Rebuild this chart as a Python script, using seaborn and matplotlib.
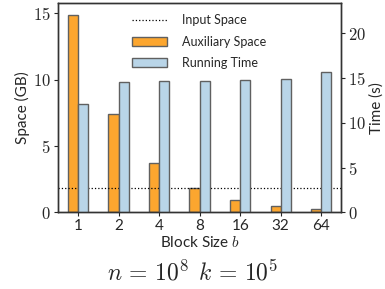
import matplotlib
matplotlib.use("Agg")
import matplotlib.pyplot as plt
import matplotlib.ticker as mticker
from matplotlib.lines import Line2D
from matplotlib.patches import Patch
import pandas as pd
import seaborn as sns

# ── Data ──────────────────────────────────────────────────────────────────────
block_sizes   = ["1", "2", "4", "8", "16", "32", "64"]
aux_space_gb  = [14.9, 7.45, 3.73, 1.86, 0.93, 0.47, 0.23]
run_time_s    = [12.1, 14.55, 14.65, 14.7, 14.8, 14.9, 15.7]
input_space_gb = 1.86

ORANGE = "#fca62f"
BLUE   = "#b9d5e8"
EDGE   = "#606060"

sns.set_style("ticks")
plt.rcParams["font.family"] = ["Lato", "DejaVu Sans"]
plt.rcParams["mathtext.fontset"] = "cm"

df = pd.DataFrame({
    "block": block_sizes,
    "Auxiliary Space": aux_space_gb,
    "Running Time": run_time_s,
})
long = df.melt(id_vars="block", var_name="series", value_name="value")
order = ["Auxiliary Space", "Running Time"]
pal = {"Auxiliary Space": ORANGE, "Running Time": BLUE}

fig, ax = plt.subplots(figsize=(3.85, 2.89), dpi=100)
ax2 = ax.twinx()

# left axis: auxiliary space (left slot of each group)
sns.barplot(data=long[long.series == "Auxiliary Space"], x="block", y="value",
            hue="series", hue_order=order, palette=pal, order=block_sizes,
            width=0.5, dodge=True, saturation=1, edgecolor=EDGE, linewidth=1.0,
            legend=False, ax=ax)
# right axis: running time (right slot of each group)
sns.barplot(data=long[long.series == "Running Time"], x="block", y="value",
            hue="series", hue_order=order, palette=pal, order=block_sizes,
            width=0.5, dodge=True, saturation=1, edgecolor=EDGE, linewidth=1.0,
            legend=False, ax=ax2)

ax.axhline(input_space_gb, color="black", linestyle=":", linewidth=0.9)

ax.set_xlim(-0.5, 6.5)
ax.set_ylim(0, 15.8)
ax2.set_ylim(0, 23.4)
ax.yaxis.set_major_locator(mticker.MultipleLocator(5))
ax2.yaxis.set_major_locator(mticker.MultipleLocator(5))
fmt = mticker.FuncFormatter(lambda v, p: f"${v:g}$")
ax.yaxis.set_major_formatter(fmt)
ax2.yaxis.set_major_formatter(fmt)

ax.set_ylabel("Space (GB)", fontsize=11, labelpad=2)
ax2.set_ylabel("Time (s)", fontsize=11, labelpad=2)
ax.set_xlabel("Block Size $b$", fontsize=11, labelpad=1)
ax.tick_params(axis="y", labelsize=12, length=3, pad=2)
ax2.tick_params(axis="y", labelsize=12, length=3, pad=2)
ax.tick_params(axis="x", labelsize=11, length=3, pad=2)

for a in (ax, ax2):
    for s in a.spines.values():
        s.set_color("#333333")
        s.set_linewidth(1.0)

handles = [
    Line2D([0], [0], color="black", linestyle=":", linewidth=0.9),
    Patch(facecolor=ORANGE, edgecolor=EDGE),
    Patch(facecolor=BLUE, edgecolor=EDGE),
]
ax2.legend(handles, ["Input Space", "Auxiliary Space", "Running Time"],
           loc="upper center", bbox_to_anchor=(0.5, 1.0), frameon=False,
           fontsize=9, handlelength=2.8, handletextpad=1.2, labelspacing=0.75)

fig.text(0.5, 0.03, r"$n\,=\,10^8\;\,k\,=\,10^5$", ha="center", fontsize=17)

fig.subplots_adjust(left=0.15, right=0.887, top=0.99, bottom=0.265)
fig.savefig("out.png", dpi=100)
